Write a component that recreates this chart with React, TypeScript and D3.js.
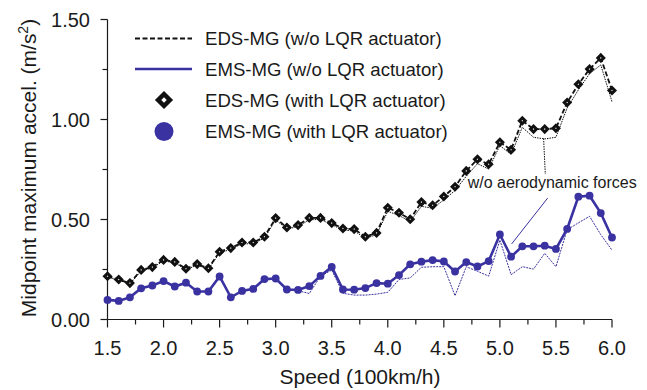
import React from "react";
import * as d3 from "d3";

const speeds = [1.5,1.6,1.7,1.8,1.9,2.0,2.1,2.2,2.3,2.4,2.5,2.6,2.7,2.8,2.9,3.0,3.1,3.2,3.3,3.4,3.5,3.6,3.7,3.8,3.9,4.0,4.1,4.2,4.3,4.4,4.5,4.6,4.7,4.8,4.9,5.0,5.1,5.2,5.3,5.4,5.5,5.6,5.7,5.8,5.9,6.0];

// EDS-MG with / w/o LQR actuator (coincident)
const edsValues = [0.216,0.200,0.182,0.248,0.262,0.298,0.288,0.254,0.277,0.256,0.339,0.357,0.385,0.385,0.414,0.507,0.460,0.472,0.508,0.508,0.482,0.455,0.452,0.414,0.433,0.559,0.534,0.501,0.587,0.571,0.615,0.664,0.743,0.801,0.776,0.886,0.849,0.994,0.952,0.952,0.956,1.085,1.176,1.252,1.308,1.145];
// EMS-MG with / w/o LQR actuator (coincident)
const emsValues = [0.098,0.093,0.111,0.156,0.170,0.192,0.165,0.184,0.140,0.140,0.215,0.111,0.143,0.153,0.202,0.205,0.150,0.148,0.167,0.218,0.263,0.150,0.149,0.157,0.182,0.179,0.222,0.276,0.289,0.297,0.290,0.240,0.287,0.265,0.292,0.425,0.314,0.366,0.366,0.369,0.353,0.453,0.614,0.619,0.532,0.410];
// w/o aerodynamic forces
const edsNoAero = [0.212,0.196,0.178,0.243,0.258,0.293,0.283,0.250,0.272,0.251,0.333,0.351,0.378,0.379,0.407,0.498,0.453,0.464,0.499,0.500,0.474,0.447,0.443,0.406,0.424,0.541,0.520,0.490,0.566,0.556,0.598,0.645,0.716,0.779,0.752,0.870,0.825,0.961,0.911,0.903,0.911,1.058,1.148,1.229,1.273,1.089];
const emsNoAero = [0.098,0.093,0.111,0.156,0.170,0.192,0.165,0.184,0.140,0.140,0.215,0.111,0.143,0.153,0.202,0.205,0.150,0.144,0.130,0.217,0.247,0.131,0.122,0.122,0.127,0.136,0.200,0.208,0.261,0.264,0.264,0.119,0.264,0.241,0.217,0.397,0.224,0.264,0.252,0.331,0.264,0.449,0.483,0.516,0.424,0.347];

const xMajorTicks = [1.5,2.0,2.5,3.0,3.5,4.0,4.5,5.0,5.5,6.0];
const xTickLabels = ["1.5","2.0","2.5","3.0","3.5","4.0","4.5","5.0","5.5","6.0"];
const xMinorTicks = [1.75,2.25,2.75,3.25,3.75,4.25,4.75,5.25,5.75];
const yMajorTicks = [0,0.5,1.0,1.5];
const yTickLabels = ["0.00","0.50","1.00","1.50"];
const yMinorTicks = [0.25,0.75,1.25];

const legendLabels = [
  "EDS-MG (w/o LQR actuator)",
  "EMS-MG (w/o LQR actuator)",
  "EDS-MG (with LQR actuator)",
  "EMS-MG (with LQR actuator)",
];
const annotationText = "w/o aerodynamic forces";
const annotationPos = [4.713, 0.66];
const blackLeader = [[5.39, 0.905], [5.405, 0.727]];
const blueLeader = [[5.426, 0.607], [5.105, 0.378]];

const BLUE = "#3a32a0";
const INK = "#1a1a1a";
const FONT = "'Liberation Sans', Arial, sans-serif";

export default function App() {
  const W = 647, H = 390;
  const x = d3.scaleLinear().domain([1.5, 6.0]).range([107.5, 612]);
  const y = d3.scaleLinear().domain([0, 1.5]).range([319.5, 19.5]);
  const line = (vals: number[]) =>
    d3.line<number>().x((_, i) => x(speeds[i])).y((v) => y(v))(vals) || "";
  const diamond = d3.symbol().type(d3.symbolSquare).size(17)() || "";
  const diamondBig = d3.symbol().type(d3.symbolSquare).size(70)() || "";
  const leader = d3.line<number[]>().x((d) => x(d[0])).y((d) => y(d[1]));

  const legendRows = [38.5, 69, 100, 131.5];

  return (
    <svg width={W} height={H} style={{ position: "absolute", left: 0, top: 0, background: "#fff" }} fontFamily={FONT}>
      {/* axes */}
      <line x1={x(1.5)} x2={x(6.0)} y1={y(0)} y2={y(0)} stroke={INK} strokeWidth={1.2} />
      <line x1={x(1.5)} x2={x(1.5)} y1={y(0)} y2={y(1.5)} stroke={INK} strokeWidth={1.2} />
      {xMajorTicks.map((t, i) => (
        <g key={"xm" + i}>
          <line x1={x(t)} x2={x(t)} y1={y(0)} y2={y(0) + 8} stroke={INK} strokeWidth={1.2} />
          <text x={x(t)} y={355} textAnchor="middle" fontSize={20} fill={INK}>{xTickLabels[i]}</text>
        </g>
      ))}
      {xMinorTicks.map((t, i) => (
        <line key={"xn" + i} x1={x(t)} x2={x(t)} y1={y(0)} y2={y(0) + 5} stroke={INK} strokeWidth={1.2} />
      ))}
      {yMajorTicks.map((t, i) => (
        <g key={"ym" + i}>
          <line x1={x(1.5) - 7} x2={x(1.5)} y1={y(t)} y2={y(t)} stroke={INK} strokeWidth={1.2} />
          <text x={90} y={y(t) + 7} textAnchor="end" fontSize={20} fill={INK}>{yTickLabels[i]}</text>
        </g>
      ))}
      {yMinorTicks.map((t, i) => (
        <line key={"yn" + i} x1={x(1.5) - 5} x2={x(1.5)} y1={y(t)} y2={y(t)} stroke={INK} strokeWidth={1.2} />
      ))}
      <text x={360} y={384} textAnchor="middle" fontSize={21} fill={INK}>Speed (100km/h)</text>
      <text transform="translate(36,168) rotate(-90)" textAnchor="middle" fontSize={21} fill={INK}>
        Midpoint maximum accel. (m/s<tspan fontSize={14} dy={-8}>2</tspan><tspan dy={8}>)</tspan>
      </text>

      {/* w/o aerodynamic forces (thin) */}
      <path d={line(edsNoAero)} fill="none" stroke="#111" strokeWidth={1} strokeDasharray="1.5,1" />
      <path d={line(emsNoAero)} fill="none" stroke={BLUE} strokeWidth={1} strokeDasharray="2,1" />

      {/* w/o LQR lines */}
      <path d={line(edsValues)} fill="none" stroke="#111" strokeWidth={1.8} strokeDasharray="5,2.5" />
      <path d={line(emsValues)} fill="none" stroke={BLUE} strokeWidth={2.6} />

      {/* with LQR markers */}
      {edsValues.map((v, i) => (
        <path key={"d" + i} d={diamond} transform={`translate(${x(speeds[i])},${y(v)}) rotate(45)`} fill="#fff" stroke="#111" strokeWidth={3} />
      ))}
      {emsValues.map((v, i) => (
        <circle key={"c" + i} cx={x(speeds[i])} cy={y(v)} r={3.9} fill={BLUE} />
      ))}

      {/* annotation */}
      <path d={leader(blackLeader) || ""} fill="none" stroke="#111" strokeWidth={1} strokeDasharray="1.5,1" />
      <path d={leader(blueLeader) || ""} fill="none" stroke={BLUE} strokeWidth={1} />
      <text x={x(annotationPos[0])} y={y(annotationPos[1])} fontSize={16} fill={INK}>{annotationText}</text>

      {/* legend */}
      <line x1={135} x2={192} y1={legendRows[0]} y2={legendRows[0]} stroke="#111" strokeWidth={1.8} strokeDasharray="5,2.5" />
      <line x1={135} x2={192} y1={legendRows[1]} y2={legendRows[1]} stroke={BLUE} strokeWidth={2.6} />
      <path d={diamondBig} transform={`translate(164,${legendRows[2]}) rotate(45)`} fill="#fff" stroke="#111" strokeWidth={4.5} />
      <circle cx={164} cy={legendRows[3]} r={9.5} fill={BLUE} />
      {legendLabels.map((l, i) => (
        <text key={"l" + i} x={205} y={legendRows[i] + 6.7} fontSize={18.6} fill={INK}>{l}</text>
      ))}
    </svg>
  );
}
